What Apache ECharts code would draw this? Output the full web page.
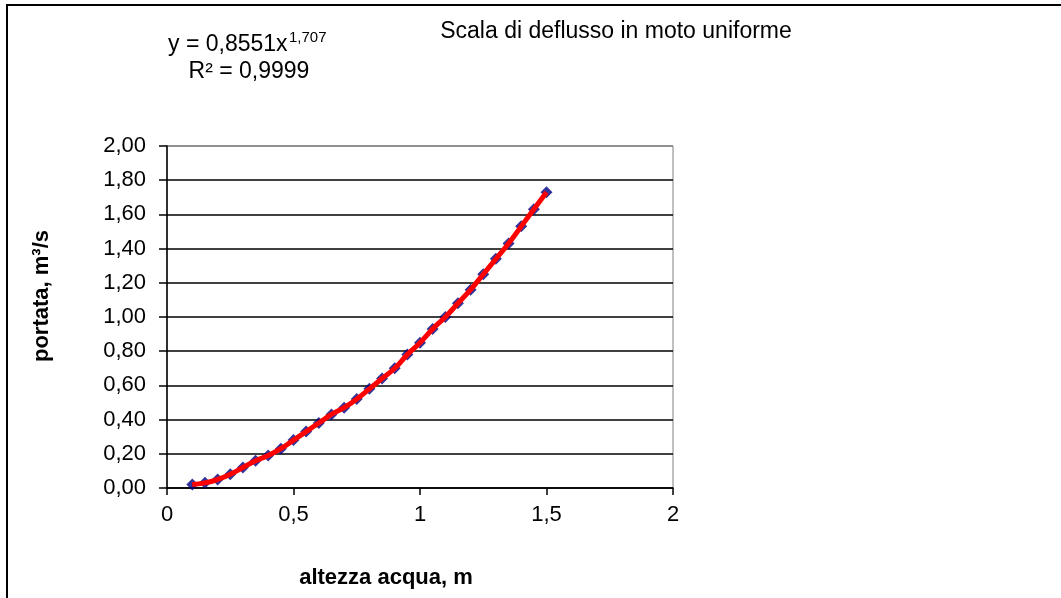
<!DOCTYPE html>
<html>
<head>
<meta charset="utf-8">
<script src="https://cdn.jsdelivr.net/npm/echarts@6/dist/echarts.min.js"></script>
<style>
  html, body { margin: 0; padding: 0; background: #fff; }
  #chart { width: 1061px; height: 598px; }
</style>
</head>
<body>
<div id="chart"></div>
<script>
// altezza acqua (m)
var altezza = [0.10, 0.15, 0.20, 0.25, 0.30, 0.35, 0.40, 0.45, 0.50, 0.55,
               0.60, 0.65, 0.70, 0.75, 0.80, 0.85, 0.90, 0.95, 1.00, 1.05,
               1.10, 1.15, 1.20, 1.25, 1.30, 1.35, 1.40, 1.45, 1.50];
// portata (m3/s)
var portata = [0.02, 0.03, 0.05, 0.08, 0.12, 0.16, 0.19, 0.23, 0.28, 0.33,
               0.38, 0.43, 0.47, 0.52, 0.58, 0.64, 0.70, 0.78, 0.85, 0.93,
               1.00, 1.08, 1.16, 1.25, 1.34, 1.43, 1.53, 1.63, 1.73];
var xTicks = [0, 0.5, 1, 1.5, 2];
var yTicks = [0, 0.2, 0.4, 0.6, 0.8, 1.0, 1.2, 1.4, 1.6, 1.8, 2.0];

var titleText = 'Scala di deflusso in moto uniforme';
var eqMain = 'y = 0,8551x';
var eqSup = '1,707';
var r2Text = 'R² = 0,9999';
var xName = 'altezza acqua, m';
var yName = 'portata, m³/s';

var pts = altezza.map(function (x, i) { return [x, portata[i]]; });
var FONT = '"Liberation Sans", Arial, sans-serif';

var splitColors = yTicks.map(function (v, i) { return i === yTicks.length - 1 ? '#808080' : '#000000'; });

var chart = echarts.init(document.getElementById('chart'), null, { renderer: 'canvas' });
chart.setOption({
  animation: false,
  backgroundColor: '#ffffff',
  grid: {
    left: 167, right: 388, top: 146, bottom: 110,
    show: true, borderColor: '#808080', borderWidth: 1, backgroundColor: 'transparent'
  },
  xAxis: {
    type: 'value', min: 0, max: 2, interval: 0.5,
    axisLine: { show: true, onZero: false, lineStyle: { color: '#000', width: 1.5 } },
    axisTick: { show: true, length: 7, lineStyle: { color: '#000', width: 1.5 } },
    splitLine: { show: false },
    axisLabel: {
      margin: 16, color: '#000', fontSize: 22, fontFamily: FONT,
      formatter: function (v) { return String(v).replace('.', ','); }
    }
  },
  yAxis: {
    type: 'value', min: 0, max: 2, interval: 0.2,
    axisLine: { show: true, onZero: false, lineStyle: { color: '#000', width: 1.5 } },
    axisTick: { show: true, length: 8, lineStyle: { color: '#000', width: 1.5 } },
    splitLine: { show: true, lineStyle: { color: splitColors, width: 1.5 } },
    axisLabel: {
      margin: 21, color: '#000', fontSize: 22, fontFamily: FONT,
      formatter: function (v) { return v.toFixed(2).replace('.', ','); }
    }
  },
  series: [
    {
      type: 'scatter', name: 'dati', data: pts,
      symbol: 'diamond', symbolSize: 12,
      itemStyle: { color: '#000080' }, z: 2
    },
    {
      type: 'line', name: 'tendenza', data: pts,
      smooth: true, showSymbol: false, symbol: 'none',
      lineStyle: { color: '#ff0000', width: 5 }, z: 3
    }
  ],
  graphic: [
    { type: 'rect', shape: { x: 7, y: 5, width: 1300, height: 900 },
      style: { fill: 'none', stroke: '#000', lineWidth: 2 }, silent: true },
    { type: 'text', x: 616, y: 32,
      style: { text: titleText, fill: '#000', font: '23px ' + FONT, textAlign: 'center', textVerticalAlign: 'middle' } },
    { type: 'text', x: 168, y: 45,
      style: { text: eqMain, fill: '#000', font: '23px ' + FONT, textAlign: 'left', textVerticalAlign: 'middle' } },
    { type: 'text', x: 289, y: 38,
      style: { text: eqSup, fill: '#000', font: '15px ' + FONT, textAlign: 'left', textVerticalAlign: 'middle' } },
    { type: 'text', x: 249, y: 72,
      style: { text: r2Text, fill: '#000', font: '23px ' + FONT, textAlign: 'center', textVerticalAlign: 'middle' } },
    { type: 'text', x: 386, y: 578,
      style: { text: xName, fill: '#000', font: 'bold 22px ' + FONT, textAlign: 'center', textVerticalAlign: 'middle' } },
    { type: 'text', x: 42, y: 296, rotation: Math.PI / 2,
      style: { text: yName, fill: '#000', font: 'bold 22px ' + FONT, textAlign: 'center', textVerticalAlign: 'middle' } }
  ]
});
</script>
</body>
</html>
